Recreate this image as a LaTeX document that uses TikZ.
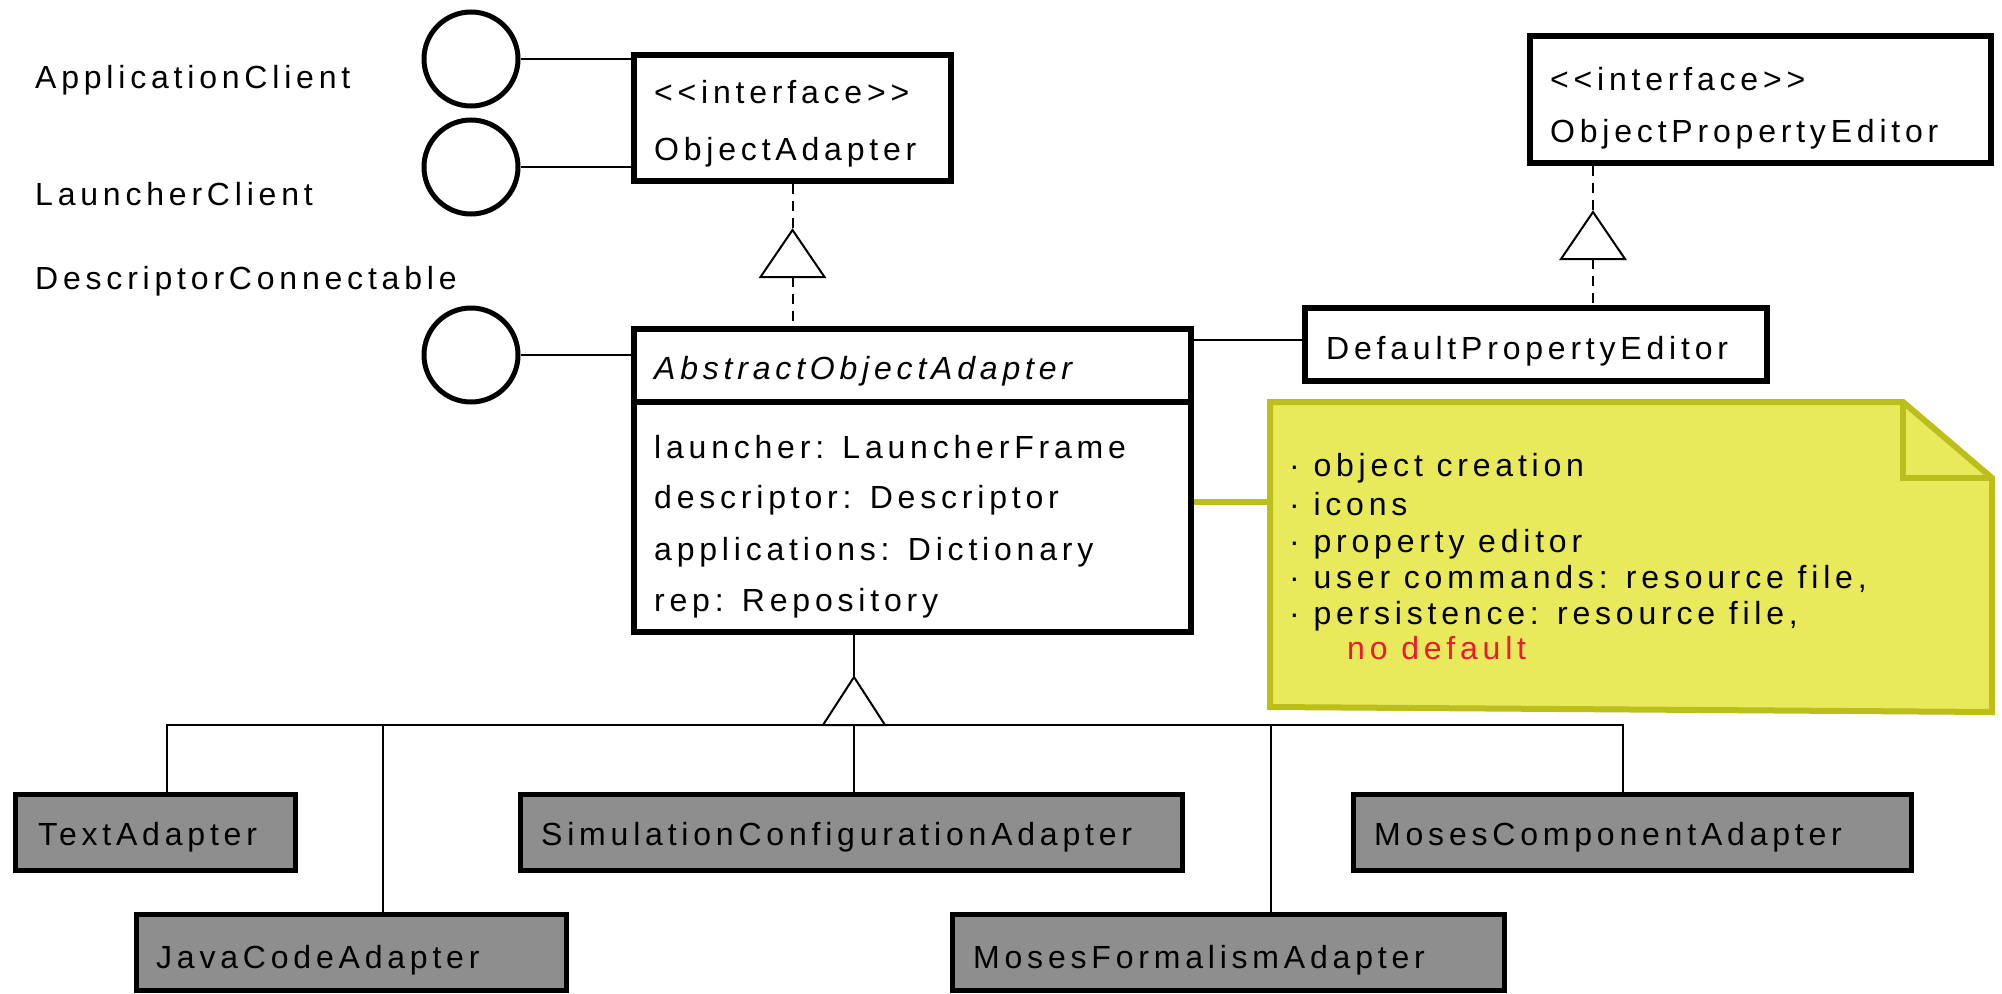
\documentclass[tikz,border=0pt]{standalone}
\usepackage{fontspec}
\newfontfamily\umlfont{Liberation Sans}[LetterSpace=15]
\definecolor{notefill}{HTML}{E8EA5C}
\definecolor{noteline}{HTML}{BBBE1B}
\definecolor{boxgray}{HTML}{8E8E8E}
\definecolor{warnred}{HTML}{EE1838}
\begin{document}
\begin{tikzpicture}[x=1pt,y=-1pt,
  txt/.style={anchor=base west,inner sep=0pt,font=\umlfont\fontsize{32}{38}\selectfont},
  cls/.style={draw,line width=5.5pt,fill=white,rectangle,inner sep=0pt},
  impl/.style={draw,line width=5.5pt,fill=boxgray,rectangle,inner sep=0pt},
  iface/.style={draw,circle,line width=5pt,minimum size=94pt,inner sep=0pt},
  link/.style={line width=2pt},
  realize/.style={line width=2pt,dash pattern=on 10pt off 7pt},
  notelink/.style={line width=6pt,draw=noteline}]
\useasboundingbox (0,0) rectangle (2002,993);

% interface lollipops and their names
\node[iface] (c1) at (471,59) {};
\node[iface] (c2) at (471,167) {};
\node[iface] (c3) at (471,355) {};
\node[txt] (l1) at (35,88) {ApplicationClient};
\node[txt] (l2) at (35,205) {LauncherClient};
\node[txt] (l3) at (35,289) {DescriptorConnectable};

% interface ObjectAdapter
\node[cls,minimum width=317pt,minimum height=126pt] (oa) at (792.5,118) {};
\node[txt] at (654,103) {<<interface>>};
\node[txt] at (654,160) {ObjectAdapter};

% interface ObjectPropertyEditor
\node[cls,minimum width=461pt,minimum height=127pt] (ope) at (1760.5,99.5) {};
\node[txt] at (1550,90) {<<interface>>};
\node[txt] at (1550,142) {ObjectPropertyEditor};

% DefaultPropertyEditor
\node[cls,minimum width=462pt,minimum height=73pt] (dpe) at (1536,344.5) {};
\node[txt] at (1326,359) {DefaultPropertyEditor};

% AbstractObjectAdapter with its attribute compartment
\node[cls,minimum width=557pt,minimum height=303pt] (aoa) at (912.5,480.5) {};
\draw[line width=5.5pt] (aoa.west |- 0,402) -- (aoa.east |- 0,402);
\node[txt,font=\umlfont\itshape\fontsize{32}{38}\selectfont] at (654,379) {AbstractObjectAdapter};
\node[txt] at (654,458) {launcher: LauncherFrame};
\node[txt] at (654,508) {descriptor: Descriptor};
\node[txt] at (654,560) {applications: Dictionary};
\node[txt] at (654,611) {rep: Repository};

% lollipop connections
\draw[link] (c1.east) -- (c1.east -| oa.west);
\draw[link] (c2.east) -- (c2.east -| oa.west);
\draw[link] (c3.east) -- (c3.east -| aoa.west);
\draw[link] ([yshift=5pt]dpe.west) -- ([yshift=5pt]dpe.west -| aoa.east);

% realization of ObjectAdapter
\coordinate (t1) at (792.5,230);
\coordinate (t1b) at (792.5,277);
\draw[realize] (oa.south) -- (t1);
\draw[realize] (t1b) -- (t1b |- aoa.north);
\draw[link,fill=white] (t1) -- ++(32,47) -- ++(-64,0) -- cycle;

% realization of ObjectPropertyEditor
\coordinate (t2) at (1593,212);
\coordinate (t2b) at (1593,259);
\draw[realize] (t2 |- ope.south) -- (t2);
\draw[realize] (t2b) -- (t2b |- dpe.north);
\draw[link,fill=white] (t2) -- ++(32,47) -- ++(-64,0) -- cycle;

% note
\draw[line width=6pt,draw=noteline,fill=notefill,line join=miter]
  (1270,402) -- (1903,402) -- (1992,478) -- (1992,712) -- (1270,707) -- cycle;
\draw[line width=6pt,draw=noteline] (1903,402) -- (1903,478) -- (1992,478);
\coordinate (noteW) at (1270,502);
\draw[notelink] (aoa.east |- noteW) -- (noteW);
\node[txt] at (1289,476) {· object creation};
\node[txt] at (1289,515) {· icons};
\node[txt] at (1289,552) {· property editor};
\node[txt] at (1289,588) {· user commands: resource file,};
\node[txt] at (1289,624) {· persistence: resource file,};
\node[txt,text=warnred] at (1347,659) {no default};

% concrete adapters
\node[impl,minimum width=280pt,minimum height=76pt] (ta) at (155.5,832.5) {};
\node[impl,minimum width=662pt,minimum height=76pt] (sca) at (851.5,832.5) {};
\node[impl,minimum width=558pt,minimum height=76pt] (mca) at (1632.5,832.5) {};
\node[impl,minimum width=430pt,minimum height=76pt] (jca) at (351.5,952.5) {};
\node[impl,minimum width=552pt,minimum height=76pt] (mfa) at (1228.5,952.5) {};
\node[txt] at (38,845) {TextAdapter};
\node[txt] at (541,845) {SimulationConfigurationAdapter};
\node[txt] at (1374,845) {MosesComponentAdapter};
\node[txt] at (156,968) {JavaCodeAdapter};
\node[txt] at (973,968) {MosesFormalismAdapter};

% generalization tree
\coordinate (g) at (854,677);
\coordinate (bus) at (854,725);
\draw[link] (g |- aoa.south) -- (g);
\draw[link] (bus) -| ([xshift=11.5pt]ta.north);
\draw[link] (bus) -| ([xshift=31.5pt]jca.north);
\draw[link] (bus) -- (bus |- sca.north);
\draw[link] (bus) -| ([xshift=42.5pt]mfa.north);
\draw[link] (bus) -| ([xshift=-9.5pt]mca.north);
\draw[link,fill=white] (g) -- ++(31,48) -- ++(-62,0) -- cycle;
\end{tikzpicture}
\end{document}
